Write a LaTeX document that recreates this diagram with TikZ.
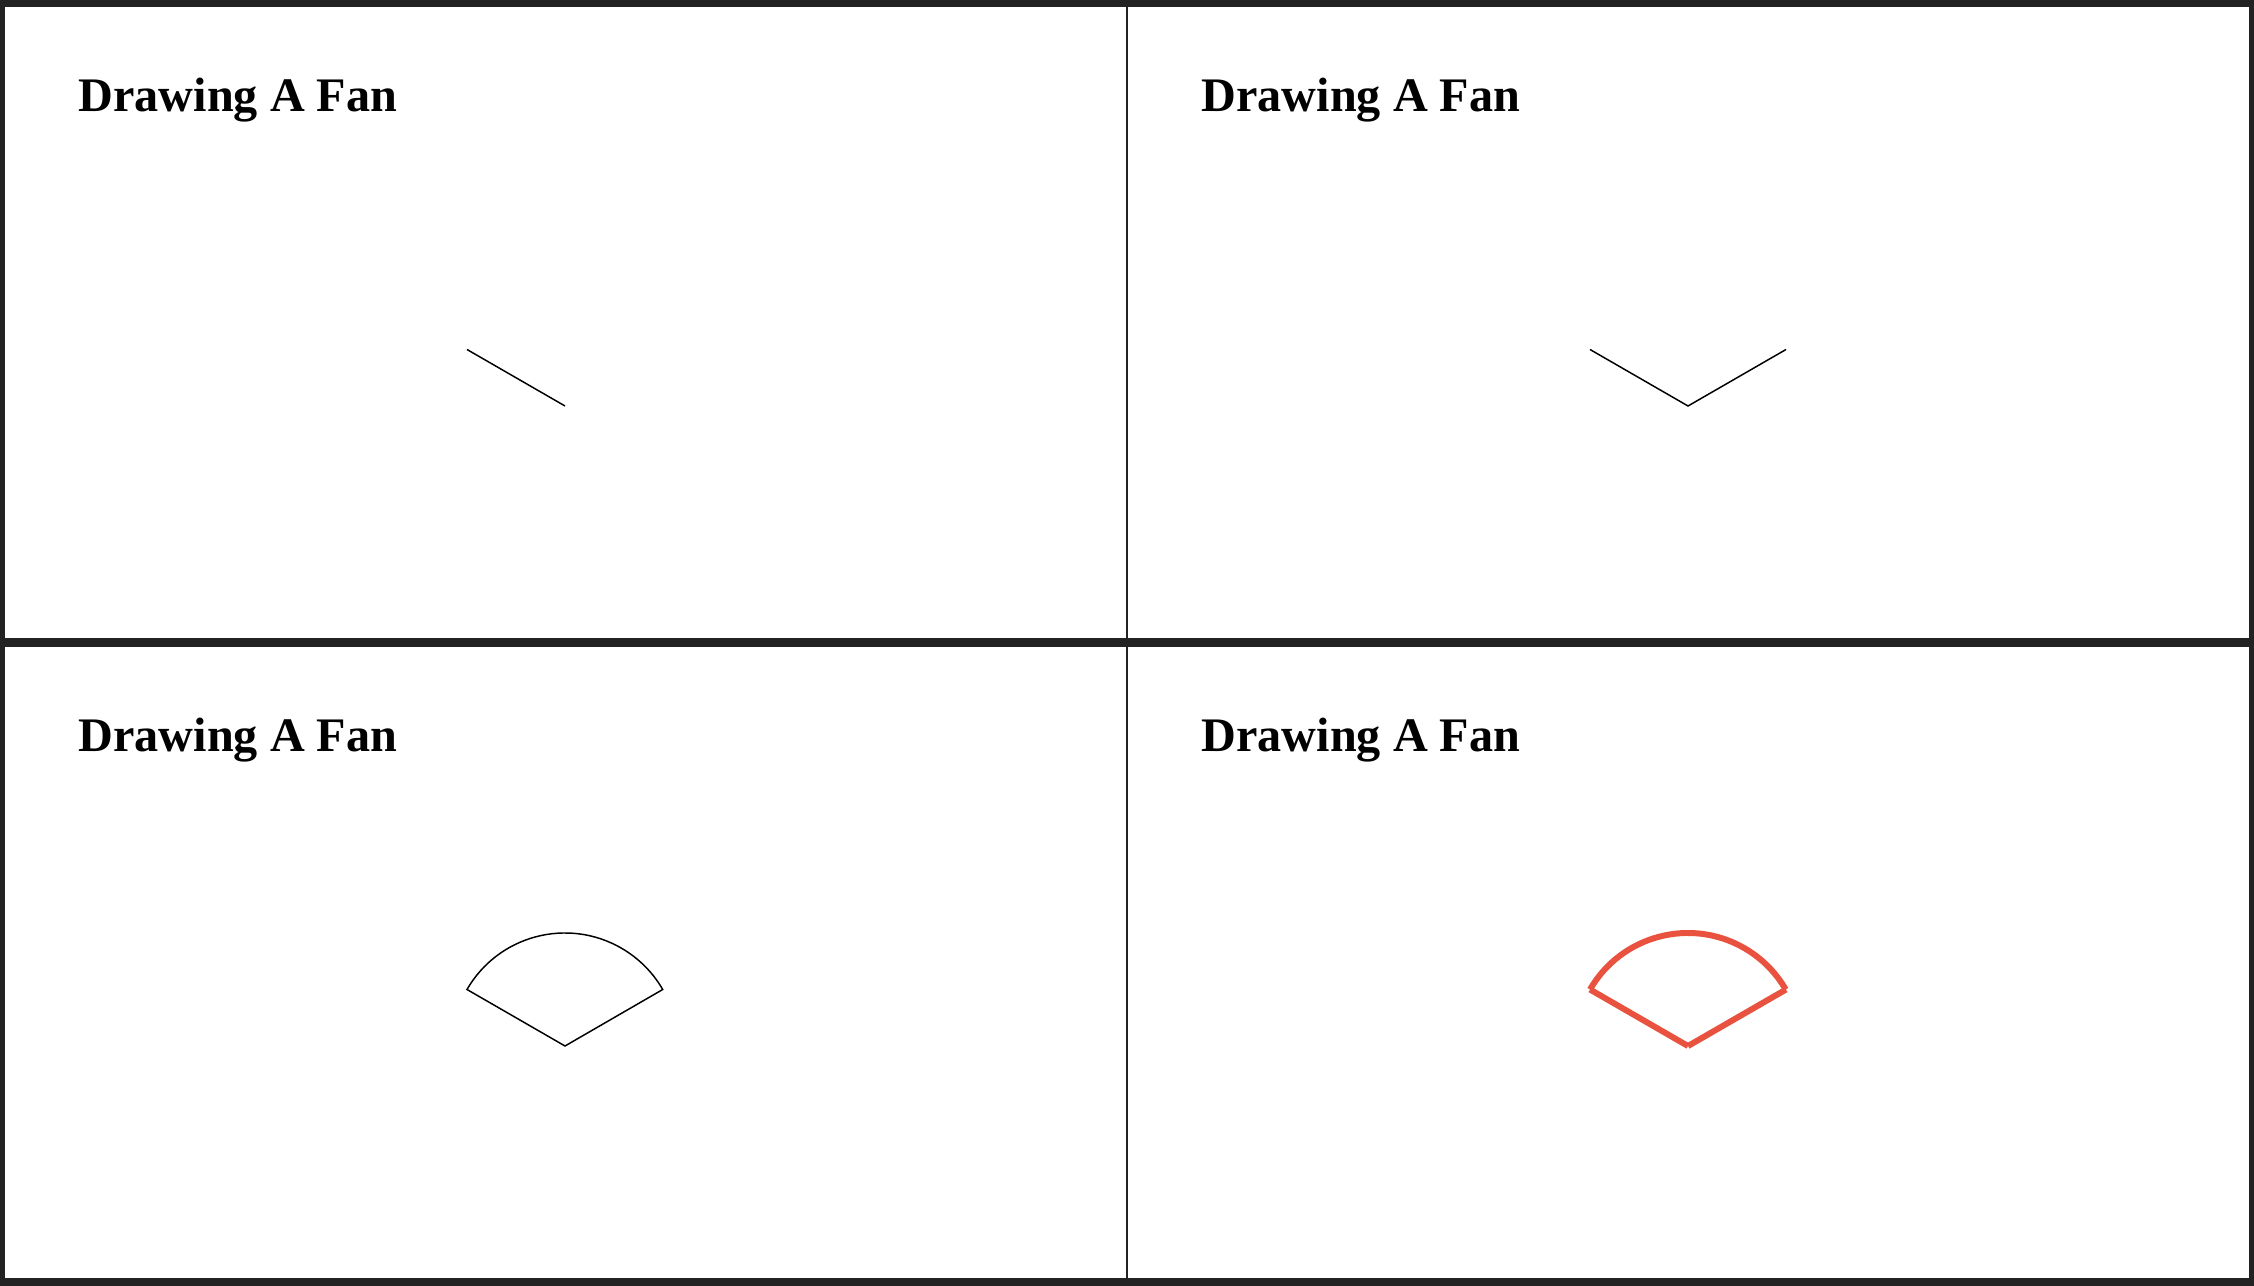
\documentclass[tikz,border=0pt]{standalone}
\usepackage{fontspec}
\setmainfont{Liberation Serif}
\usetikzlibrary{calc}
\definecolor{framegray}{HTML}{222222}
\definecolor{fanred}{HTML}{E8523F}

\begin{document}
\begin{tikzpicture}[x=0.01cm,y=-0.01cm]
\tikzset{
panel/.style={fill=white},
title/.style={anchor=base west,inner sep=0,font=\bfseries\fontsize{13.7}{16}\selectfont},
thin line/.style={draw=black,line width=0.42pt},
red line/.style={draw=fanred,line width=1.7pt}
}

\fill[framegray] (0,0) rectangle (2254,1286);
\foreach \px/\py/\n in {5/7/a,1128/7/b,5/647/c,1128/647/d}{
  \fill[panel] (\px,\py) rectangle ++(1121,631);
  \node[title] (title-\n) at (\px+73,\py+105) {Drawing A Fan};
  \coordinate (apex-\n) at (\px+560,\py+399);
  \coordinate (left-\n) at ($(apex-\n)+(-98,-56.5)$);
  \coordinate (right-\n) at ($(apex-\n)+(98,-56.5)$);
}

% one arm
\draw[thin line] (left-a) -- (apex-a);
% two arms
\draw[thin line] (left-b) -- (apex-b) -- (right-b);
% arms and arc
\draw[thin line] (left-c) arc[start angle=210,end angle=330,radius=113] -- (apex-c) -- cycle;
% the fan in red
\draw[red line] (left-d) -- (apex-d);
\draw[red line] (apex-d) -- (right-d);
\draw[red line] (left-d) arc[start angle=210,end angle=330,radius=113];
\end{tikzpicture}
\end{document}
